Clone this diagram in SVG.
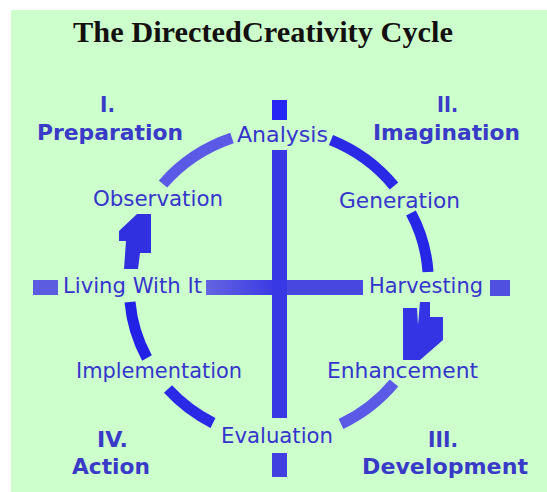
<svg xmlns="http://www.w3.org/2000/svg" width="547" height="492" viewBox="0 0 547 492">
  <defs>
    <style>
      .lbl { font-family: "DejaVu Sans", "Liberation Sans", sans-serif; font-size: 21px; fill: #3535cc; }
      .phase { font-family: "DejaVu Sans", "Liberation Sans", sans-serif; font-size: 22px; font-weight: bold; fill: #3a3ac8; }
      .title { font-family: "Liberation Serif", "Times New Roman", serif; font-size: 30px; font-weight: bold; fill: #141010; }
      .arc { fill: none; stroke-width: 11; stroke-linecap: butt; }
    </style>
    <linearGradient id="hbarL" x1="0" y1="0" x2="1" y2="0">
      <stop offset="0" stop-color="#6464e2"/>
      <stop offset="1" stop-color="#3c3ce4"/>
    </linearGradient>
  </defs>

  <rect x="0" y="0" width="547" height="492" fill="#ffffff"/>
  <rect x="11" y="10" width="536" height="482" fill="#ccffcc"/>

  <g id="title">
    <text class="title" x="73" y="42" textLength="380" lengthAdjust="spacingAndGlyphs">The DirectedCreativity Cycle</text>
  </g>

  <g id="axes">
    <rect x="272" y="100" width="15" height="20" fill="#2626f4"/>
    <rect x="272" y="150" width="15" height="268" fill="#3838e4"/>
    <rect x="272" y="453" width="15" height="24" fill="#4040e0"/>
    <rect x="33" y="280" width="25" height="15" fill="#5c5ce0"/>
    <rect x="206" y="280" width="66" height="15" fill="url(#hbarL)"/>
    <rect x="287" y="280" width="76" height="15" fill="#4848e0"/>
    <rect x="490" y="280" width="20" height="16" fill="#5050e0"/>
  </g>

  <g id="connectors">
    <path class="arc" stroke="#5a5ae6" d="M163,184 A158,150 0 0 1 232,138"/>
    <path class="arc" stroke="#2a2ae6" d="M331,140 A158,150 0 0 1 394,186"/>
    <path class="arc" stroke="#2626e6" d="M411,213 A158,150 0 0 1 428,272"/>
    <path class="arc" stroke="#5a5ae6" d="M394,383 A158,150 0 0 1 341,424"/>
    <path class="arc" stroke="#2a2ae6" d="M213,423 A158,150 0 0 1 168,389"/>
    <path class="arc" stroke="#2222e6" d="M147,358 A158,150 0 0 1 130,302"/>
    <polygon fill="#3030e0" points="137,214 151,214 151,253 140,253 138,269 124,269 126,241 119,241 119,231"/>
    <polygon fill="#3434e4" points="403,308 417,308 418,325 420,302 430,302 430,317 443,317 443,340 420,360 403,360"/>
  </g>

  <g id="phase-1">
    <text class="phase" x="100" y="112" textLength="15" lengthAdjust="spacingAndGlyphs">I.</text>
    <text class="phase" x="37" y="140" textLength="146" lengthAdjust="spacingAndGlyphs">Preparation</text>
  </g>
  <g id="phase-2">
    <text class="phase" x="437" y="112" textLength="21" lengthAdjust="spacingAndGlyphs">II.</text>
    <text class="phase" x="373" y="140" textLength="147" lengthAdjust="spacingAndGlyphs">Imagination</text>
  </g>
  <g id="phase-3">
    <text class="phase" x="428" y="447" textLength="30" lengthAdjust="spacingAndGlyphs">III.</text>
    <text class="phase" x="362" y="474" textLength="166" lengthAdjust="spacingAndGlyphs">Development</text>
  </g>
  <g id="phase-4">
    <text class="phase" x="97" y="447" textLength="31" lengthAdjust="spacingAndGlyphs">IV.</text>
    <text class="phase" x="72" y="474" textLength="78" lengthAdjust="spacingAndGlyphs">Action</text>
  </g>

  <g id="analysis"><text class="lbl" x="237" y="142" textLength="91" lengthAdjust="spacingAndGlyphs">Analysis</text></g>
  <g id="generation"><text class="lbl" x="339" y="208" textLength="121" lengthAdjust="spacingAndGlyphs">Generation</text></g>
  <g id="harvesting"><text class="lbl" x="369" y="293" textLength="114" lengthAdjust="spacingAndGlyphs">Harvesting</text></g>
  <g id="enhancement"><text class="lbl" x="327" y="378" textLength="151" lengthAdjust="spacingAndGlyphs">Enhancement</text></g>
  <g id="evaluation"><text class="lbl" x="221" y="443" textLength="112" lengthAdjust="spacingAndGlyphs">Evaluation</text></g>
  <g id="implementation"><text class="lbl" x="76" y="378" textLength="166" lengthAdjust="spacingAndGlyphs">Implementation</text></g>
  <g id="living-with-it"><text class="lbl" x="63" y="293" textLength="139" lengthAdjust="spacingAndGlyphs">Living With It</text></g>
  <g id="observation"><text class="lbl" x="93" y="206" textLength="130" lengthAdjust="spacingAndGlyphs">Observation</text></g>
</svg>
